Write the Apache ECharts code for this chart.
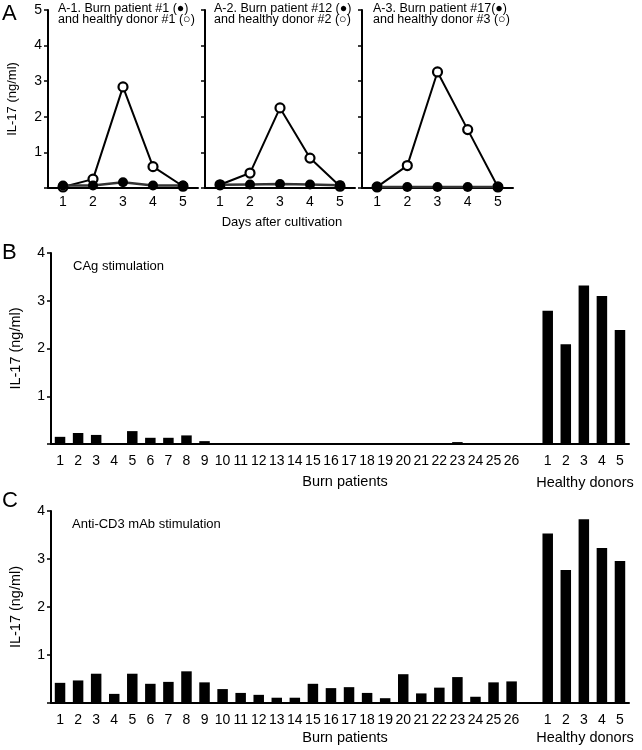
<!DOCTYPE html>
<html>
<head>
<meta charset="utf-8">
<script src="https://cdn.jsdelivr.net/npm/echarts@6/dist/echarts.min.js"></script>
<style>
html,body{margin:0;padding:0;background:#fff;}
#chart{width:642px;height:750px;}
</style>
</head>
<body>
<div id="chart"></div>
<script>
// ---------- DATA ----------
const days = ['1', '2', '3', '4', '5'];
// Panel A: IL-17 (ng/ml) over days after cultivation
const a1Burn = [0.07, 0.07, 0.16, 0.07, 0.07];   // Burn patient #1 (filled)
const a1Donor = [0.03, 0.25, 2.84, 0.60, 0.05];  // Healthy donor #1 (open)
const a2Burn = [0.09, 0.10, 0.11, 0.10, 0.08];   // Burn patient #12
const a2Donor = [0.09, 0.42, 2.25, 0.84, 0.05];  // Healthy donor #2
const a3Burn = [0.03, 0.03, 0.03, 0.03, 0.03];   // Burn patient #17
const a3Donor = [0.03, 0.63, 3.26, 1.64, 0.03];  // Healthy donor #3

// Panels B and C
const burnLabels = ['1','2','3','4','5','6','7','8','9','10','11','12','13','14','15','16','17','18','19','20','21','22','23','24','25','26'];
const donorLabels = ['1','2','3','4','5'];
const burnCAg = [0.15, 0.23, 0.19, 0, 0.27, 0.13, 0.13, 0.18, 0.06, 0, 0, 0, 0, 0, 0, 0, 0, 0, 0, 0, 0, 0.02, 0.04, 0, 0, 0];
const donorCAg = [2.79, 2.09, 3.32, 3.10, 2.39];
const burnCD3 = [0.42, 0.47, 0.61, 0.19, 0.61, 0.40, 0.44, 0.66, 0.43, 0.29, 0.21, 0.17, 0.11, 0.11, 0.40, 0.31, 0.33, 0.21, 0.10, 0.60, 0.20, 0.32, 0.54, 0.13, 0.43, 0.45];
const donorCD3 = [3.53, 2.77, 3.83, 3.23, 2.96];

// ---------- OPTION ----------
const FONT = '"Liberation Sans", Arial, Helvetica, sans-serif';
const barCats = burnLabels.concat(['']).concat(donorLabels);
const barB = burnCAg.concat([null]).concat(donorCAg);
const barC = burnCD3.concat([null]).concat(donorCD3);

const chart = echarts.init(document.getElementById('chart'), null, {renderer: 'canvas'});

const axisLine = {show: true, lineStyle: {color: '#000', width: 2}};

function xCatA(i) {
  return {
    type: 'category', gridIndex: i, data: days, boundaryGap: true,
    axisLine: axisLine, axisTick: {show: false},
    axisLabel: {color: '#000', fontSize: 14, fontFamily: FONT, margin: 7}
  };
}
function yValA(i, showLabels) {
  return {
    type: 'value', gridIndex: i, min: 0, max: 5, interval: 1,
    splitLine: {show: false},
    axisLine: axisLine,
    axisTick: {show: true, inside: false, length: 4, lineStyle: {color: '#000', width: 1.5}},
    axisLabel: {show: showLabels, color: '#000', fontSize: 14, fontFamily: FONT, margin: 6,
      formatter: v => v === 0 ? '' : String(v)},
    name: showLabels ? 'IL-17 (ng/ml)' : '',
    nameLocation: 'middle', nameGap: 29,
    nameTextStyle: {color: '#000', fontSize: 13, fontFamily: FONT}
  };
}
function xCatBar(i) {
  return {
    type: 'category', gridIndex: i, data: barCats, boundaryGap: true,
    axisLine: axisLine, axisTick: {show: false},
    axisLabel: {color: '#000', fontSize: 14, fontFamily: FONT, margin: 10, interval: 0}
  };
}
function yValBar(i) {
  return {
    type: 'value', gridIndex: i, min: 0, max: 4, interval: 1,
    splitLine: {show: false},
    axisLine: axisLine,
    axisTick: {show: true, inside: false, length: 4, lineStyle: {color: '#000', width: 1.5}},
    axisLabel: {color: '#000', fontSize: 14, fontFamily: FONT, margin: 6,
      formatter: v => v === 0 ? '' : String(v)},
    name: 'IL-17 (ng/ml)', nameLocation: 'middle', nameGap: 28,
    nameTextStyle: {color: '#000', fontSize: 14.5, fontFamily: FONT}
  };
}
function donorLine(i, data) {
  return {
    type: 'line', xAxisIndex: i, yAxisIndex: i, data: data,
    symbol: 'circle', symbolSize: 9, z: 2,
    lineStyle: {color: '#000', width: 2},
    itemStyle: {color: '#fff', borderColor: '#000', borderWidth: 2.2},
    animation: false
  };
}
function burnLine(i, data) {
  return {
    type: 'line', xAxisIndex: i, yAxisIndex: i, data: data,
    symbol: 'circle', symbolSize: 10, z: 3,
    lineStyle: {color: '#333', width: 2.5},
    itemStyle: {color: '#000'},
    animation: false
  };
}
function bars(i, data) {
  return {
    type: 'bar', xAxisIndex: i, yAxisIndex: i, data: data,
    barWidth: 10.5, itemStyle: {color: '#000'}, animation: false
  };
}
function label(cx, cy, text, size) {
  return {
    type: 'text', x: cx, y: cy,
    style: {text: text, fill: '#000', font: size + 'px ' + FONT,
      textAlign: 'center', textVerticalAlign: 'middle'}
  };
}

const option = {
  backgroundColor: '#fff',
  animation: false,
  grid: [
    {left: 48, top: 10, width: 150, height: 178},
    {left: 205, top: 10, width: 150, height: 178},
    {left: 362, top: 10, width: 151, height: 178},
    {left: 48, top: 253, width: 581, height: 191},
    {left: 48, top: 511, width: 581, height: 192}
  ],
  xAxis: [xCatA(0), xCatA(1), xCatA(2), xCatBar(3), xCatBar(4)],
  yAxis: [yValA(0, true), yValA(1, false), yValA(2, false), yValBar(3), yValBar(4)],
  series: [
    donorLine(0, a1Donor), burnLine(0, a1Burn),
    donorLine(1, a2Donor), burnLine(1, a2Burn),
    donorLine(2, a3Donor), burnLine(2, a3Burn),
    bars(3, barB), bars(4, barC)
  ],
  graphic: [
    // panel letters
    {type: 'text', left: 2, top: 3, style: {text: 'A', fill: '#000', font: '22px ' + FONT}},
    {type: 'text', left: 2, top: 242, style: {text: 'B', fill: '#000', font: '22px ' + FONT}},
    {type: 'text', left: 2, top: 490, style: {text: 'C', fill: '#000', font: '22px ' + FONT}},
    // panel A subtitles
    {type: 'text', left: 58, top: 2, style: {text: 'A-1. Burn patient #1 (●)\nand healthy donor #1 (○)', fill: '#000', font: '12.5px ' + FONT, lineHeight: 11.5}},
    {type: 'text', left: 214, top: 2, style: {text: 'A-2. Burn patient #12 (●)\nand healthy donor #2 (○)', fill: '#000', font: '12.5px ' + FONT, lineHeight: 11.5}},
    {type: 'text', left: 373, top: 2, style: {text: 'A-3. Burn patient #17(●)\nand healthy donor #3 (○)', fill: '#000', font: '12.5px ' + FONT, lineHeight: 11.5}},
    // axis titles
    label(282, 222, 'Days after cultivation', 13),
    {type: 'text', left: 73, top: 260, style: {text: 'CAg stimulation', fill: '#000', font: '13px ' + FONT}},
    label(345, 482, 'Burn patients', 14.5),
    label(585, 483, 'Healthy donors', 14.5),
    {type: 'text', left: 72, top: 518, style: {text: 'Anti-CD3 mAb stimulation', fill: '#000', font: '13px ' + FONT}},
    label(345, 738, 'Burn patients', 14.5),
    label(585, 738, 'Healthy donors', 14.5)
  ]
};
chart.setOption(option);
</script>
</body>
</html>
